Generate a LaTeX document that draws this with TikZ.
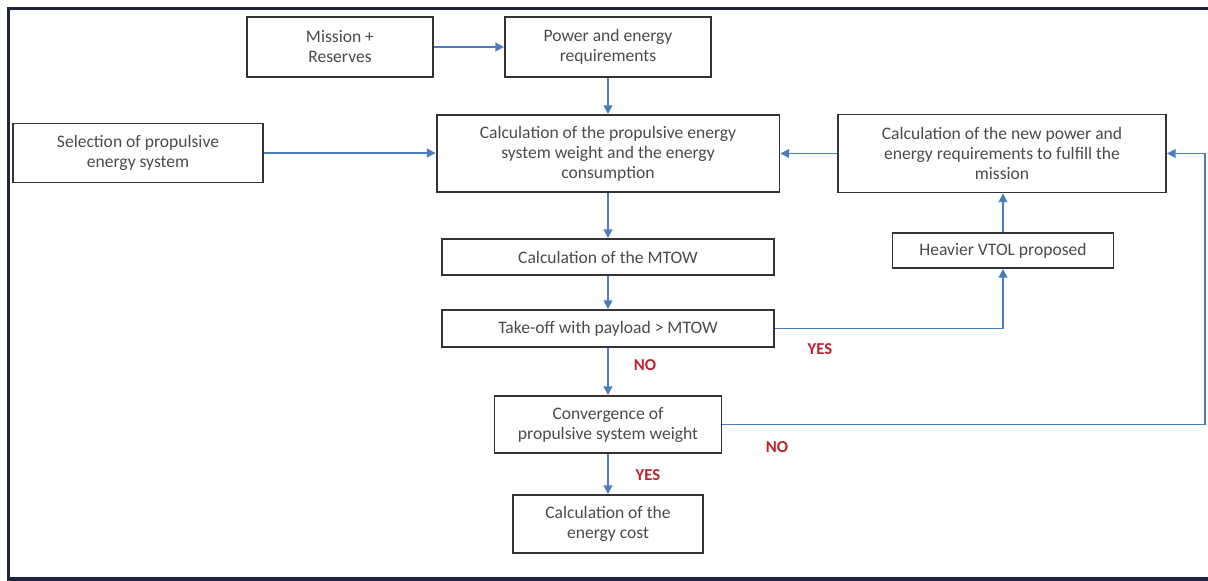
\documentclass[tikz,border=0pt]{standalone}
\usepackage{fontspec}
\setmainfont{Carlito}
\usetikzlibrary{arrows.meta}
\definecolor{flowBlue}{RGB}{74, 126, 187}
\definecolor{flowRed}{RGB}{190, 32, 46}
\definecolor{flowFrame}{RGB}{30, 36, 62}
\definecolor{flowText}{RGB}{75, 75, 75}

\begin{document}
\begin{tikzpicture}[x=0.02cm, y=-0.02cm,
    stepbox/.style={draw=black!80, line width=1.1pt, fill=white, align=center,
        text=flowText, inner sep=0pt, font=\fontsize{10}{11.4}\selectfont},
    flow/.style={flowBlue, line width=1.1pt, -{Triangle[length=5pt, width=5pt]}},
    answer/.style={flowRed, font=\bfseries\fontsize{9.5}{11}\selectfont}]
    \useasboundingbox (0,0) rectangle (1208,581);
    \draw[flowFrame, line width=1.8pt] (1208,8.5) -- (8.5,8.5) -- (8.5,579) -- (1208,579);

    \node[stepbox, minimum width=3.72cm, minimum height=1.2cm] (mission) at (340,47) {Mission +\\Reserves};
    \node[stepbox, minimum width=4.12cm, minimum height=1.2cm] (power) at (608,47) {Power and energy\\requirements};
    \node[stepbox, minimum width=5cm, minimum height=1.18cm] (select) at (138,153) {Selection of propulsive\\energy system};
    \node[stepbox, minimum width=6.86cm, minimum height=1.54cm] (calcprop) at (608,153.5) {Calculation of the propulsive energy\\system weight and the energy\\consumption};
    \node[stepbox, minimum width=6.56cm, minimum height=1.56cm] (calcnew) at (1002,153.5) {Calculation of the new power and\\energy requirements to fulfill the\\mission};
    \node[stepbox, minimum width=6.64cm, minimum height=0.72cm] (mtow) at (608,257) {Calculation of the MTOW};
    \node[stepbox, minimum width=6.64cm, minimum height=0.74cm] (takeoff) at (608,328.5) {Take-off with payload > MTOW};
    \node[stepbox, minimum width=4.42cm, minimum height=0.7cm] (heavier) at (1003,250.5) {Heavier VTOL proposed};
    \node[stepbox, minimum width=4.54cm, minimum height=1.14cm] (conv) at (608,424.5) {Convergence of\\propulsive system weight};
    \node[stepbox, minimum width=3.8cm, minimum height=1.16cm] (cost) at (608,524) {Calculation of the\\energy cost};
    \coordinate (loop) at (1205,0);

    \draw[flow] (mission.east) -- (power.west);
    \draw[flow] (power.south) -- (calcprop.north);
    \draw[flow] (select.east) -- (select.east -| calcprop.west);
    \draw[flow] (calcnew.west) -- (calcprop.east);
    \draw[flow] (calcprop.south) -- (mtow.north);
    \draw[flow] (mtow.south) -- (takeoff.north);
    \draw[flow] (takeoff.east) -| (heavier.south);
    \draw[flow] (heavier.north) -- (calcnew.south -| heavier.north);
    \draw[flow] (takeoff.south) -- (conv.north);
    \draw[flow] (conv.east) -- (conv.east -| loop) |- (calcnew.east);
    \draw[flow] (conv.south) -- (cost.north);

    \node[answer] (yesmtow) at (820,349) {YES};
    \node[answer] (nomtow) at (645,365) {NO};
    \node[answer] (noconv) at (777,447) {NO};
    \node[answer] (yesconv) at (648,475) {YES};
\end{tikzpicture}
\end{document}
